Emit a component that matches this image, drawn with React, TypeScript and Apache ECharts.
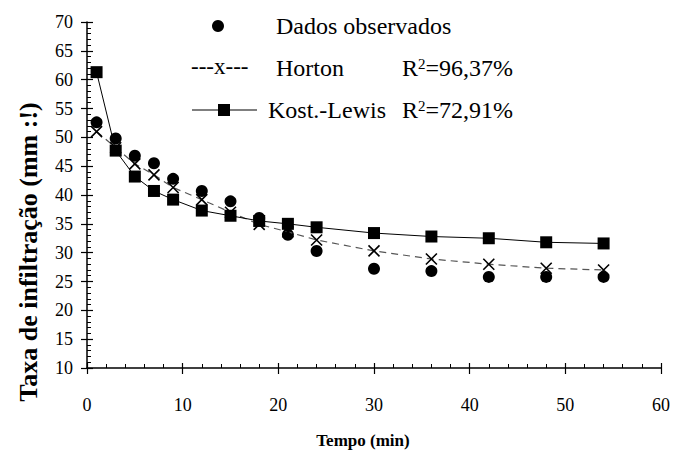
import React, { useEffect, useRef } from "react";
import * as echarts from "echarts";

const times = [1, 3, 5, 7, 9, 12, 15, 18, 21, 24, 30, 36, 42, 48, 54];
const observed = [52.6, 49.8, 46.8, 45.5, 42.8, 40.7, 38.9, 36.0, 33.1, 30.3, 27.2, 26.8, 25.8, 25.8, 25.8];
const horton = [51.0, 48.2, 45.4, 43.5, 41.3, 39.2, 37.0, 34.9, 33.6, 32.2, 30.3, 28.9, 28.0, 27.3, 27.0];
const kostLewis = [61.3, 47.7, 43.2, 40.7, 39.2, 37.3, 36.4, 35.5, 35.0, 34.4, 33.4, 32.8, 32.5, 31.8, 31.6];

const legendNames = ["Dados observados", "Horton", "Kost.-Lewis"];
const r2Horton = "96,37%";
const r2Kost = "72,91%";
const xTitle = "Tempo (min)";
const yTitle = "Taxa de infiltração (mm :!)";

const FONT = "Times New Roman, Liberation Serif, DejaVu Serif, serif";
const LEG = 24;

export default function App() {
  const ref = useRef<HTMLDivElement>(null);
  useEffect(() => {
    if (!ref.current) return;
    const chart = echarts.init(ref.current, null, { renderer: "svg" });
    const pair = (arr: number[]) => times.map((t, i) => [t, arr[i]]);
    const axisLabel = { color: "#000", fontFamily: FONT, fontSize: 18 };
    const xBase = { type: "value", min: 0, max: 60, interval: 10, position: "bottom", splitLine: { show: false } };
    const yBase = { type: "value", min: 10, max: 70, interval: 5, position: "left", splitLine: { show: false } };
    const supRich = {
      sup: { fontFamily: FONT, fontSize: 15, color: "#000", verticalAlign: "top", padding: [0, 0, 9, 0] },
      n: { fontFamily: FONT, fontSize: LEG, color: "#000" },
    };
    chart.setOption({
      animation: false,
      backgroundColor: "#fff",
      textStyle: { fontFamily: FONT },
      grid: { left: 87, right: 12, top: 22, bottom: 85, containLabel: false },
      xAxis: [
        {
          ...xBase,
          axisLine: { show: true, onZero: false, lineStyle: { color: "#000", width: 1.5 } },
          axisTick: { show: true, inside: true, length: 5, lineStyle: { color: "#000", width: 1.2 } },
          minorTick: { show: true, splitNumber: 5, length: 4, lineStyle: { color: "#000", width: 1 } },
          axisLabel: { ...axisLabel, margin: 28 },
        },
        {
          ...xBase,
          axisLine: { show: false, onZero: false },
          axisTick: { show: true, inside: false, length: 6, lineStyle: { color: "#000", width: 1.2 } },
          axisLabel: { show: false },
        },
      ],
      yAxis: [
        {
          ...yBase,
          axisLine: { show: true, onZero: false, lineStyle: { color: "#000", width: 1.5 } },
          axisTick: { show: true, inside: true, length: 6, lineStyle: { color: "#000", width: 1.2 } },
          minorTick: { show: true, splitNumber: 5, length: 4, lineStyle: { color: "#000", width: 1 } },
          axisLabel: { ...axisLabel, margin: 14 },
        },
        {
          ...yBase,
          axisLine: { show: false, onZero: false },
          axisTick: { show: true, inside: false, length: 6, lineStyle: { color: "#000", width: 1.2 } },
          axisLabel: { show: false },
        },
      ],
      series: [
        {
          name: legendNames[0],
          type: "scatter",
          data: pair(observed),
          symbol: "circle",
          symbolSize: 12,
          itemStyle: { color: "#000", opacity: 1 },
          z: 3,
        },
        {
          name: legendNames[1],
          type: "line",
          data: pair(horton),
          symbol: "path://M0,0 L10,10 M10,0 L0,10",
          symbolSize: 11,
          showAllSymbol: true,
          itemStyle: { color: "rgba(0,0,0,0)", borderColor: "#000", borderWidth: 1.6 },
          lineStyle: { color: "#555", width: 1.2, type: [7, 5] },
          z: 4,
        },
        {
          name: legendNames[2],
          type: "line",
          data: pair(kostLewis),
          symbol: "rect",
          symbolSize: 12,
          showAllSymbol: true,
          itemStyle: { color: "#000" },
          lineStyle: { color: "#000", width: 1 },
          z: 5,
        },
      ],
      graphic: [
        { type: "circle", shape: { cx: 218, cy: 26, r: 6 }, style: { fill: "#000" } },
        { type: "text", x: 276, y: 26, style: { text: legendNames[0], fontFamily: FONT, fontSize: LEG, fill: "#000", verticalAlign: "middle" } },
        { type: "text", x: 191, y: 66, style: { text: "---x---", fontFamily: FONT, fontSize: 23, fill: "#000", verticalAlign: "middle" } },
        { type: "text", x: 276, y: 68, style: { text: legendNames[1], fontFamily: FONT, fontSize: LEG, fill: "#000", verticalAlign: "middle" } },
        { type: "text", x: 402, y: 68, style: { text: "{n|R}{sup|2}{n|=" + r2Horton + "}", rich: supRich, verticalAlign: "middle" } },
        { type: "line", shape: { x1: 192, y1: 110, x2: 257, y2: 110 }, style: { stroke: "#000", lineWidth: 1.2 } },
        { type: "rect", shape: { x: 218, y: 104, width: 12, height: 12 }, style: { fill: "#000" } },
        { type: "text", x: 268, y: 110, style: { text: legendNames[2], fontFamily: FONT, fontSize: LEG, fill: "#000", verticalAlign: "middle" } },
        { type: "text", x: 402, y: 110, style: { text: "{n|R}{sup|2}{n|=" + r2Kost + "}", rich: supRich, verticalAlign: "middle" } },
        { type: "text", x: 363, y: 440, style: { text: xTitle, fontFamily: FONT, fontSize: 17, fontWeight: "bold", fill: "#000", align: "center", verticalAlign: "middle" } },
        { type: "text", x: 28, y: 252, rotation: Math.PI / 2, style: { text: yTitle, fontFamily: FONT, fontSize: 26, fontWeight: "bold", fill: "#000", align: "center", verticalAlign: "middle" } },
      ],
    });
    return () => chart.dispose();
  }, []);
  return <div ref={ref} style={{ width: 673, height: 453, position: "absolute", left: 0, top: 0 }} />;
}
